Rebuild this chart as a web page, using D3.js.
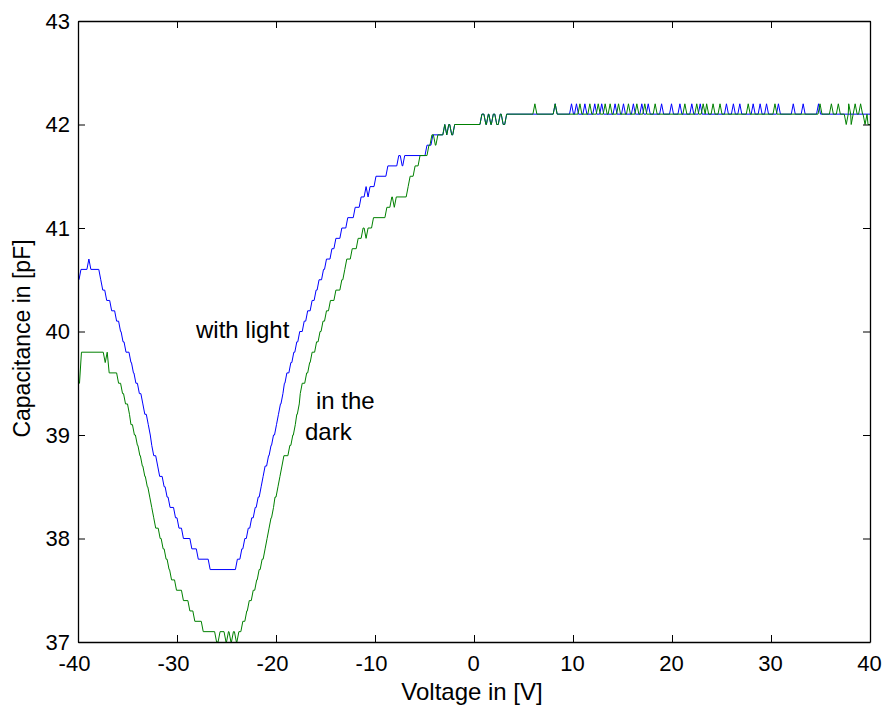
<!DOCTYPE html>
<html>
<head>
<meta charset="utf-8">
<script src="https://cdn.jsdelivr.net/npm/d3@7"></script>
<style>
  body { margin: 0; background: #fff; }
  svg text { font-family: "Liberation Sans", Arial, Helvetica, sans-serif; fill: #000; }
</style>
</head>
<body>
<div id="chart"></div>
<script>
// tick values
const xTicks = [-40, -30, -20, -10, 0, 10, 20, 30, 40];
const yTicks = [37, 38, 39, 40, 41, 42, 43];

// "with light" : [voltage where level starts, capacitance]
const lightSteps = [
  [-40, 40.5], [-39.7, 40.6], [-38.9, 40.7], [-38.7, 40.6], [-37.7, 40.5], [-37.5, 40.4],
  [-37.1, 40.3], [-36.6, 40.2], [-36.1, 40.1], [-35.7, 40.0], [-35.45, 39.9], [-35.15, 39.8],
  [-34.65, 39.7], [-34.4, 39.6], [-34.15, 39.5], [-33.8, 39.4], [-33.45, 39.3], [-33.25, 39.2],
  [-32.9, 39.1], [-32.7, 39.0], [-32.55, 38.9], [-32.35, 38.8], [-31.95, 38.7], [-31.75, 38.6],
  [-31.3, 38.5], [-31.0, 38.4], [-30.7, 38.3], [-30.15, 38.2], [-29.8, 38.1], [-29.35, 38.0],
  [-28.5, 37.9], [-27.85, 37.8], [-26.65, 37.7], [-23.9, 37.8], [-23.45, 37.9], [-23.15, 38.0],
  [-22.8, 38.1], [-22.45, 38.2], [-22.1, 38.3], [-21.8, 38.4], [-21.5, 38.5], [-21.3, 38.6],
  [-21.1, 38.7], [-20.75, 38.8], [-20.5, 38.9], [-20.25, 39.0], [-19.95, 39.1], [-19.75, 39.2],
  [-19.55, 39.3], [-19.3, 39.4], [-19.15, 39.5], [-18.9, 39.6], [-18.5, 39.7], [-18.2, 39.8],
  [-17.9, 39.9], [-17.6, 40.0], [-17.15, 40.1], [-16.8, 40.2], [-16.35, 40.3], [-15.95, 40.4],
  [-15.65, 40.5], [-15.2, 40.6], [-14.9, 40.7], [-14.35, 40.8], [-13.95, 40.9], [-13.35, 41.0],
  [-12.75, 41.1], [-12.0, 41.2], [-11.4, 41.3], [-10.9, 41.4], [-10.7, 41.3], [-10.5, 41.4],
  [-9.9, 41.5], [-8.7, 41.6], [-7.6, 41.7], [-7.25, 41.6], [-7.0, 41.7], [-4.75, 41.8],
  [-4.15, 41.9], [-2.95, 42.0], [-2.75, 41.9], [-2.55, 42.0], [-2.25, 41.9], [-1.95, 42.0],
  [0.8, 42.1], [1.2, 42.0], [1.45, 42.1], [1.7, 42.0], [1.95, 42.1], [2.3, 42.0],
  [2.65, 42.1], [2.95, 42.0], [3.3, 42.1]
];
// single-sample spikes up to 42.2 on the flat part
const lightSpikes = [8.2, 9.85, 10.35, 11.2, 12.2, 12.9, 14.25, 15.1, 16.1, 16.95, 17.6, 18.95,
  19.95, 20.8, 22.0, 22.85, 25.5, 26.2, 26.85, 28.2, 28.9, 29.55, 30.75, 32.25, 33.25, 34.8];
const lightDips = [];

// "in the dark"
const darkSteps = [
  [-40, 39.5], [-39.65, 39.8], [-37.25, 39.7], [-37.05, 39.8], [-36.85, 39.6], [-35.9, 39.5],
  [-35.5, 39.4], [-35.2, 39.3], [-34.8, 39.2], [-34.65, 39.1], [-34.3, 39.0], [-34.0, 38.9],
  [-33.75, 38.8], [-33.5, 38.7], [-33.25, 38.6], [-33.0, 38.5], [-32.75, 38.4], [-32.55, 38.3],
  [-32.35, 38.2], [-32.15, 38.1], [-31.7, 38.0], [-31.4, 37.9], [-31.1, 37.8], [-30.8, 37.7],
  [-30.55, 37.6], [-30.05, 37.5], [-29.35, 37.4], [-28.7, 37.3], [-28.2, 37.2], [-27.35, 37.1],
  [-26.0, 37.0], [-25.65, 37.1], [-25.05, 37.0], [-24.8, 37.1], [-24.55, 37.0], [-24.3, 37.1],
  [-24.0, 37.0], [-23.75, 37.1], [-23.35, 37.2], [-22.95, 37.3], [-22.7, 37.4], [-22.3, 37.5],
  [-21.95, 37.6], [-21.7, 37.7], [-21.4, 37.8], [-21.1, 37.9], [-20.9, 38.0], [-20.7, 38.1],
  [-20.5, 38.2], [-20.25, 38.3], [-20.1, 38.4], [-19.8, 38.5], [-19.6, 38.6], [-19.4, 38.7],
  [-19.2, 38.8], [-18.6, 38.9], [-18.3, 39.0], [-18.05, 39.1], [-17.9, 39.2], [-17.65, 39.3],
  [-17.55, 39.4], [-17.35, 39.5], [-16.9, 39.6], [-16.6, 39.7], [-16.35, 39.8], [-15.9, 39.9],
  [-15.55, 40.0], [-15.25, 40.1], [-14.9, 40.2], [-14.5, 40.3], [-13.95, 40.4], [-13.35, 40.5],
  [-13.05, 40.6], [-12.85, 40.7], [-12.3, 40.8], [-11.7, 40.9], [-11.2, 41.0], [-10.9, 40.9],
  [-10.7, 41.0], [-10.15, 41.1], [-8.8, 41.2], [-8.3, 41.3], [-8.05, 41.2], [-7.85, 41.3],
  [-6.65, 41.4], [-6.45, 41.5], [-5.95, 41.6], [-5.45, 41.7], [-4.55, 41.8], [-4.25, 41.9],
  [-3.9, 41.8], [-3.65, 41.9], [-2.95, 42.0], [-2.75, 41.9], [-2.55, 42.0], [-2.25, 41.9],
  [-1.95, 42.0], [0.8, 42.1], [1.2, 42.0], [1.45, 42.1], [1.7, 42.0], [1.95, 42.1],
  [2.3, 42.0], [2.65, 42.1], [2.95, 42.0], [3.3, 42.1]
];
const darkSpikes = [6.15, 8.2, 10.7, 11.7, 12.55, 13.25, 13.75, 14.6, 15.6, 16.45, 17.25, 18.3,
  21.3, 22.5, 23.15, 23.5, 24.15, 24.85, 27.7, 30.4, 34.95, 36.1, 36.8, 37.85, 38.5, 39.05];
const darkDips = [37.6, 38.1, 39.5, 39.8];

const width = 885, height = 707;
const margin = {top: 21, right: 15, bottom: 65, left: 78};
const dx = 0.2; // sample spacing in V

const svg = d3.select("#chart").append("svg")
    .attr("width", width)
    .attr("height", height);

const x = d3.scaleLinear().domain([-40, 40]).range([margin.left, width - margin.right]);
const y = d3.scaleLinear().domain([37, 43]).range([height - margin.bottom, margin.top]);

// merge the flat-part spikes and dips into the level list
function allSteps(steps, spikes, dips) {
    let out = steps.slice();
    spikes.forEach(v => { out.push([v, 42.2]); out.push([v + dx, 42.1]); });
    dips.forEach((v, i) => {
        out.push([v, 42.0]);
        if (i < dips.length - 1) out.push([v + dx, 42.1]);
    });
    out.sort((a, b) => a[0] - b[0]);
    return out;
}

// each level is held until one sample before the next level starts
function toPoints(steps) {
    let pts = [];
    steps.forEach((s, i) => {
        pts.push([s[0], s[1]]);
        let end = i < steps.length - 1 ? steps[i + 1][0] - dx : 40;
        if (end > s[0]) pts.push([end, s[1]]);
    });
    return pts;
}

const line = d3.line()
    .x(d => x(d[0]))
    .y(d => y(d[1]));

svg.append("clipPath").attr("id", "clip")
    .append("rect")
    .attr("x", margin.left).attr("y", margin.top - 1)
    .attr("width", x(40) - x(-40)).attr("height", y(37) - y(43) + 2);

svg.append("path")
    .datum(toPoints(allSteps(lightSteps, lightSpikes, lightDips)))
    .attr("clip-path", "url(#clip)")
    .attr("fill", "none")
    .attr("stroke", "#0000ff")
    .attr("stroke-width", 1)
    .attr("d", line);

svg.append("path")
    .datum(toPoints(allSteps(darkSteps, darkSpikes, darkDips)))
    .attr("clip-path", "url(#clip)")
    .attr("fill", "none")
    .attr("stroke", "#008000")
    .attr("stroke-width", 1)
    .attr("d", line);

// axes, ticks pointing inward like matlab
const axisStyle = g => {
    g.selectAll("path.domain").attr("stroke", "#000").attr("stroke-width", 1.3);
    g.selectAll(".tick line").attr("stroke", "#000").attr("stroke-width", 1);
    g.selectAll("text").attr("font-size", "22px").attr("fill", "#000");
};

svg.append("g")
    .attr("transform", `translate(0,${y(37)})`)
    .call(d3.axisBottom(x).tickValues(xTicks).tickSize(-7).tickSizeOuter(0).tickPadding(13)
        .tickFormat(d => d < 0 ? "-" + Math.abs(d) : d))
    .call(axisStyle)
    .call(g => g.selectAll("text").attr("dx", d => d < 0 ? -4 : -1));

svg.append("g")
    .attr("transform", `translate(0,${y(43)})`)
    .call(d3.axisTop(x).tickValues(xTicks).tickSize(-7).tickSizeOuter(0).tickFormat(""))
    .call(axisStyle);

svg.append("g")
    .attr("transform", `translate(${x(-40)},0)`)
    .call(d3.axisLeft(y).tickValues(yTicks).tickSize(-7).tickSizeOuter(0).tickPadding(8)
        .tickFormat(d3.format("d")))
    .call(axisStyle);

svg.append("g")
    .attr("transform", `translate(${x(40)},0)`)
    .call(d3.axisRight(y).tickValues(yTicks).tickSize(-7).tickSizeOuter(0).tickFormat(""))
    .call(axisStyle);

// axis titles
svg.append("text")
    .attr("x", (x(-40) + x(40)) / 2 - 2)
    .attr("y", 700)
    .attr("text-anchor", "middle")
    .attr("font-size", "24px")
    .text("Voltage in [V]");

svg.append("text")
    .attr("transform", `translate(30,${(y(37) + y(43)) / 2 + 7}) rotate(-90)`)
    .attr("text-anchor", "middle")
    .attr("font-size", "23px")
    .text("Capacitance in [pF]");

// curve annotations
svg.append("text").attr("x", 196).attr("y", 338).attr("font-size", "24px").text("with light");
svg.append("text").attr("x", 316).attr("y", 409).attr("font-size", "24px").text("in the");
svg.append("text").attr("x", 305).attr("y", 440).attr("font-size", "24px").text("dark");
</script>
</body>
</html>
